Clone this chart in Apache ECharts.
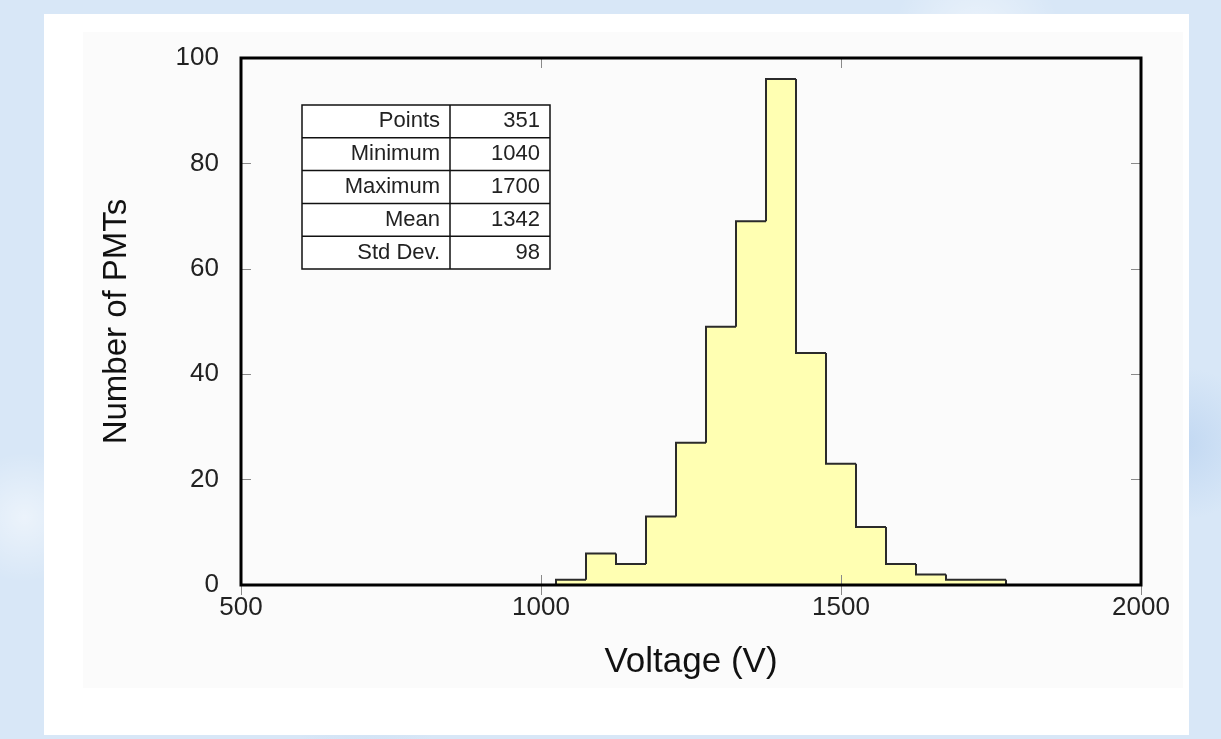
<!DOCTYPE html>
<html>
<head>
<meta charset="utf-8">
<title>PMT voltage distribution</title>
<script src="https://cdn.jsdelivr.net/npm/echarts@6/dist/echarts.min.js"></script>
<style>
  html, body {
    margin: 0;
    padding: 0;
    width: 1221px;
    height: 739px;
    overflow: hidden;
    background-color: #d8e7f7;
    background-image:
      radial-gradient(circle at 12% 20%, rgba(255,255,255,0.55) 0, rgba(255,255,255,0) 8%),
      radial-gradient(circle at 30% 90%, rgba(190,215,240,0.6) 0, rgba(190,215,240,0) 9%),
      radial-gradient(circle at 80% 5%, rgba(255,255,255,0.5) 0, rgba(255,255,255,0) 7%),
      radial-gradient(circle at 97% 60%, rgba(185,210,240,0.7) 0, rgba(185,210,240,0) 6%),
      radial-gradient(circle at 2% 70%, rgba(255,255,255,0.5) 0, rgba(255,255,255,0) 5%);
  }
  #panel {
    position: absolute;
    left: 44px;
    top: 14px;
    width: 1145px;
    height: 721px;
    background: #ffffff;
  }
  #inner {
    position: absolute;
    left: 39px;
    top: 18px;
    width: 1100px;
    height: 656px;
    background: #fbfbfb;
  }
  #chart {
    position: absolute;
    left: 0;
    top: 0;
    width: 1221px;
    height: 739px;
  }
</style>
</head>
<body>
<div id="panel"><div id="inner"></div></div>
<div id="chart"></div>
<script>
// histogram bins, 50 V wide
const binStart = [1025, 1075, 1125, 1175, 1225, 1275, 1325, 1375, 1425, 1475, 1525, 1575, 1625, 1675, 1725]
const binWidth = 50
const counts = [1, 6, 4, 13, 27, 49, 69, 96, 44, 23, 11, 4, 2, 1, 1]

const xTicks = [500, 1000, 1500, 2000]
const yTicks = [0, 20, 40, 60, 80, 100]

const statLabels = ['Points', 'Minimum', 'Maximum', 'Mean', 'Std Dev.']
const statValues = ['351', '1040', '1700', '1342', '98']

const font = "'Liberation Sans', Arial, Helvetica, sans-serif"

const chart = echarts.init(document.getElementById('chart'), null, { renderer: 'canvas' })

// [x0, x1, count, prevCount, isLast]
const binData = binStart.map((x0, i) => [
  x0,
  x0 + binWidth,
  counts[i],
  i > 0 ? counts[i - 1] : 0,
  i === counts.length - 1 ? 1 : 0
])

function renderBin(params, api) {
  const x0 = api.value(0)
  const x1 = api.value(1)
  const h = api.value(2)
  const hPrev = api.value(3)
  const last = api.value(4)
  const tl = api.coord([x0, h])
  const br = api.coord([x1, 0])
  const prev = api.coord([x0, hPrev])
  const tr = api.coord([x1, h])
  const children = [{
    type: 'rect',
    shape: { x: tl[0], y: tl[1], width: br[0] - tl[0], height: br[1] - tl[1] },
    style: { fill: '#ffffb2' }
  }, {
    type: 'polyline',
    shape: { points: [[prev[0], prev[1]], [tl[0], tl[1]], [tr[0], tr[1]]] },
    style: { stroke: '#2b2b2b', lineWidth: 2, fill: null }
  }]
  if (last) {
    children.push({
      type: 'line',
      shape: { x1: tr[0], y1: tr[1], x2: br[0], y2: br[1] },
      style: { stroke: '#2b2b2b', lineWidth: 2 }
    })
  }
  return { type: 'group', children: children }
}

// stats table
const tableLeft = 302
const tableTop = 105
const colSplit = 450
const tableRight = 550
const rowH = 32.8
const tableItems = [{
  type: 'rect',
  shape: { x: tableLeft, y: tableTop, width: tableRight - tableLeft, height: rowH * statLabels.length },
  style: { fill: '#ffffff', stroke: '#111', lineWidth: 1.5 }
}, {
  type: 'line',
  shape: { x1: colSplit, y1: tableTop, x2: colSplit, y2: tableTop + rowH * statLabels.length },
  style: { stroke: '#111', lineWidth: 1.5 }
}]
statLabels.forEach((lab, i) => {
  const yMid = tableTop + rowH * (i + 0.5)
  if (i > 0) {
    tableItems.push({
      type: 'line',
      shape: { x1: tableLeft, y1: tableTop + rowH * i, x2: tableRight, y2: tableTop + rowH * i },
      style: { stroke: '#111', lineWidth: 1.5 }
    })
  }
  tableItems.push({
    type: 'text',
    x: colSplit - 10,
    y: yMid,
    style: { text: lab, font: '22px ' + font, fill: '#222', align: 'right', verticalAlign: 'middle' }
  })
  tableItems.push({
    type: 'text',
    x: tableRight - 10,
    y: yMid,
    style: { text: statValues[i], font: '22px ' + font, fill: '#222', align: 'right', verticalAlign: 'middle' }
  })
})

// frame = grid border; axes only give ticks and labels
const innerTick = { show: true, inside: true, length: 10, lineStyle: { color: '#8a8a8a', width: 1 } }
const plainNum = v => String(v)

chart.setOption({
  backgroundColor: 'transparent',
  animation: false,
  textStyle: { fontFamily: font },
  grid: {
    left: 241, top: 58, right: 80, bottom: 154,
    show: true,
    z: 20,
    backgroundColor: 'transparent',
    borderColor: '#000',
    borderWidth: 3
  },
  xAxis: [{
    type: 'value',
    min: xTicks[0],
    max: xTicks[xTicks.length - 1],
    interval: 500,
    position: 'bottom',
    z: 5,
    axisLine: { show: false },
    axisTick: innerTick,
    splitLine: { show: false },
    axisLabel: { fontSize: 26, color: '#222', margin: 10, formatter: plainNum },
    name: 'Voltage (V)',
    nameLocation: 'middle',
    nameGap: 60,
    nameTextStyle: { fontSize: 35, color: '#111' }
  }, {
    type: 'value',
    min: xTicks[0],
    max: xTicks[xTicks.length - 1],
    interval: 500,
    position: 'top',
    z: 5,
    axisLine: { show: false, onZero: false },
    axisTick: innerTick,
    splitLine: { show: false },
    axisLabel: { show: false }
  }, {
    // ticks along the bottom edge (sits on y = 0)
    type: 'value',
    min: xTicks[0],
    max: xTicks[xTicks.length - 1],
    interval: 500,
    position: 'top',
    z: 5,
    axisLine: { show: false },
    axisTick: innerTick,
    splitLine: { show: false },
    axisLabel: { show: false }
  }],
  yAxis: [{
    type: 'value',
    min: yTicks[0],
    max: yTicks[yTicks.length - 1],
    interval: 20,
    position: 'left',
    z: 5,
    axisLine: { show: false },
    axisTick: innerTick,
    splitLine: { show: false },
    axisLabel: { fontSize: 26, color: '#222', margin: 22, formatter: plainNum },
    name: 'Number of PMTs',
    nameLocation: 'middle',
    nameGap: 108,
    nameTextStyle: { fontSize: 33, color: '#111' }
  }, {
    type: 'value',
    min: yTicks[0],
    max: yTicks[yTicks.length - 1],
    interval: 20,
    position: 'right',
    z: 5,
    axisLine: { show: false, onZero: false },
    axisTick: innerTick,
    splitLine: { show: false },
    axisLabel: { show: false }
  }],
  series: [{
    type: 'custom',
    name: 'PMTs',
    xAxisIndex: 0,
    yAxisIndex: 0,
    renderItem: renderBin,
    encode: { x: [0, 1], y: 2 },
    data: binData,
    z: 2
  }],
  graphic: tableItems
})
</script>
</body>
</html>
